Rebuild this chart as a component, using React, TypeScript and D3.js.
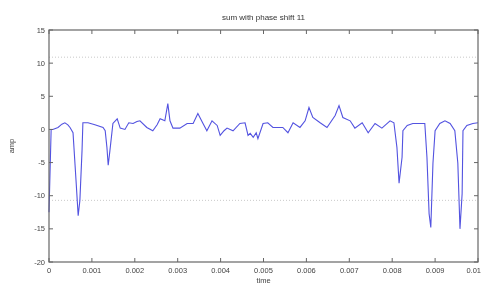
import React, { useEffect, useRef } from "react";
import * as d3 from "d3";

// time in ms (units of 1e-3 s)
const timeMs = [
  0, 0.03, 0.05, 0.09, 0.21, 0.3, 0.37, 0.44, 0.49, 0.56, 0.63, 0.68, 0.72, 0.77, 0.79, 0.91,
  1.07, 1.26, 1.31, 1.35, 1.38, 1.42, 1.49, 1.59, 1.66, 1.77, 1.86, 1.96, 2.05, 2.12, 2.28,
  2.42, 2.52, 2.59, 2.7, 2.77, 2.82, 2.89, 3.05, 3.22, 3.36, 3.47, 3.59, 3.68, 3.8, 3.92,
  3.99, 4.08, 4.15, 4.29, 4.45, 4.57, 4.64, 4.69, 4.76, 4.83, 4.87, 4.99, 5.1, 5.22, 5.45,
  5.57, 5.69, 5.85, 5.97, 6.06, 6.15, 6.32, 6.48, 6.67, 6.76, 6.85, 7.02, 7.13, 7.3, 7.44,
  7.6, 7.76, 7.95, 8.04, 8.11, 8.16, 8.23, 8.25, 8.35, 8.48, 8.76, 8.81, 8.86, 8.9, 8.95,
  9.0, 9.11, 9.23, 9.35, 9.46, 9.53, 9.58, 9.63, 9.65, 9.74, 9.88, 10.0,
];
const amp = [
  -12.5, -5, 0, 0, 0.3, 0.8, 1.0, 0.7, 0.3, -0.5, -7.7, -13, -10.7, -3.2, 1.0, 1.0,
  0.7, 0.3, -0.2, -2.7, -5.4, -3.2, 0.9, 1.6, 0.2, 0, 1.0, 0.9, 1.2, 1.3, 0.3,
  -0.2, 0.7, 1.6, 1.3, 3.9, 1.3, 0.2, 0.2, 0.9, 0.9, 2.4, 0.9, -0.2, 1.3, 0.6,
  -0.9, -0.2, 0.2, -0.2, 0.9, 1.0, -0.9, -0.6, -1.2, -0.5, -1.4, 0.9, 1.0, 0.3, 0.3,
  -0.5, 1.0, 0.3, 1.3, 3.3, 1.8, 1.0, 0.3, 2.1, 3.6, 1.8, 1.3, 0.2, 1.0, -0.5,
  0.9, 0.2, 1.3, 1.0, -2.7, -8.1, -4.2, -0.2, 0.6, 0.9, 0.9, -4.2, -12.7, -14.8, -5.1,
  -0.2, 0.9, 1.3, 0.9, -0.2, -5.1, -15, -9.7, -0.2, 0.6, 0.9, 1.0,
];
const thresholds = [10.9, -10.7];
const xTicks = [0, 0.001, 0.002, 0.003, 0.004, 0.005, 0.006, 0.007, 0.008, 0.009, 0.01];
const yTicks = [15, 10, 5, 0, -5, -10, -15, -20];

const W = 482;
const H = 284;
const M = { left: 49, right: 4, top: 30, bottom: 22 };

export default function App() {
  const ref = useRef<SVGSVGElement>(null);

  useEffect(() => {
    const svg = d3.select(ref.current);
    svg.selectAll("*").remove();

    const x = d3.scaleLinear().domain([0, 0.01]).range([M.left, W - M.right]);
    const y = d3.scaleLinear().domain([-20, 15]).range([H - M.bottom, M.top]);
    const font = "Liberation Sans, Arial, sans-serif";
    const axisCol = "#666";

    const defs = svg.append("defs");
    defs
      .append("filter")
      .attr("id", "soft")
      .append("feGaussianBlur")
      .attr("stdDeviation", 0.45);

    const g = svg.append("g").attr("filter", "url(#soft)");

    g.append("rect")
      .attr("x", 0)
      .attr("y", 0)
      .attr("width", W)
      .attr("height", H)
      .attr("fill", "#fff");

    // threshold dotted lines
    g.selectAll(".thr")
      .data(thresholds)
      .enter()
      .append("line")
      .attr("x1", x(0))
      .attr("x2", x(0.01))
      .attr("y1", (d) => y(d))
      .attr("y2", (d) => y(d))
      .attr("stroke", "#bbb")
      .attr("stroke-width", 0.8)
      .attr("stroke-dasharray", "1,2");

    const pts = timeMs.map((t, i) => [t * 1e-3, amp[i]] as [number, number]);
    const line = d3
      .line<[number, number]>()
      .x((d) => x(d[0]))
      .y((d) => y(d[1]));
    g.append("path")
      .datum(pts)
      .attr("d", line)
      .attr("fill", "none")
      .attr("stroke", "#5252e0")
      .attr("stroke-width", 1.1);

    // box
    g.append("rect")
      .attr("x", x(0))
      .attr("y", y(15))
      .attr("width", x(0.01) - x(0))
      .attr("height", y(-20) - y(15))
      .attr("fill", "none")
      .attr("stroke", axisCol)
      .attr("stroke-width", 1.2);

    const tl = 4;
    xTicks.forEach((t, i) => {
      const last = i === xTicks.length - 1;
      g.append("line")
        .attr("x1", x(t)).attr("x2", x(t))
        .attr("y1", y(-20)).attr("y2", y(-20) - tl)
        .attr("stroke", axisCol);
      g.append("line")
        .attr("x1", x(t)).attr("x2", x(t))
        .attr("y1", y(15)).attr("y2", y(15) + tl)
        .attr("stroke", axisCol);
      g.append("text")
        .attr("x", last ? W - 1 : x(t))
        .attr("y", y(-20) + 11)
        .attr("text-anchor", last ? "end" : "middle")
        .attr("font-family", font)
        .attr("font-size", 7.5)
        .attr("fill", "#444")
        .text(t === 0 ? "0" : String(+t.toFixed(3)));
    });
    yTicks.forEach((v) => {
      g.append("line")
        .attr("x1", x(0)).attr("x2", x(0) + tl)
        .attr("y1", y(v)).attr("y2", y(v))
        .attr("stroke", axisCol);
      g.append("line")
        .attr("x1", x(0.01)).attr("x2", x(0.01) - tl)
        .attr("y1", y(v)).attr("y2", y(v))
        .attr("stroke", axisCol);
      g.append("text")
        .attr("x", x(0) - 4)
        .attr("y", y(v) + 2.5)
        .attr("text-anchor", "end")
        .attr("font-family", font)
        .attr("font-size", 7.5)
        .attr("fill", "#444")
        .text(v);
    });

    g.append("text")
      .attr("x", (x(0) + x(0.01)) / 2)
      .attr("y", 20)
      .attr("text-anchor", "middle")
      .attr("font-family", font)
      .attr("font-size", 8)
      .attr("fill", "#333")
      .text("sum with phase shift 11");

    g.append("text")
      .attr("x", (x(0) + x(0.01)) / 2)
      .attr("y", H - 1)
      .attr("text-anchor", "middle")
      .attr("font-family", font)
      .attr("font-size", 7.5)
      .attr("fill", "#444")
      .text("time");

    g.append("text")
      .attr("transform", `translate(14,${(y(15) + y(-20)) / 2}) rotate(-90)`)
      .attr("text-anchor", "middle")
      .attr("font-family", font)
      .attr("font-size", 7.5)
      .attr("fill", "#444")
      .text("amp");
  }, []);

  return (
    <svg
      ref={ref}
      width={W}
      height={H}
      style={{ position: "absolute", left: 0, top: 0, display: "block" }}
    />
  );
}
